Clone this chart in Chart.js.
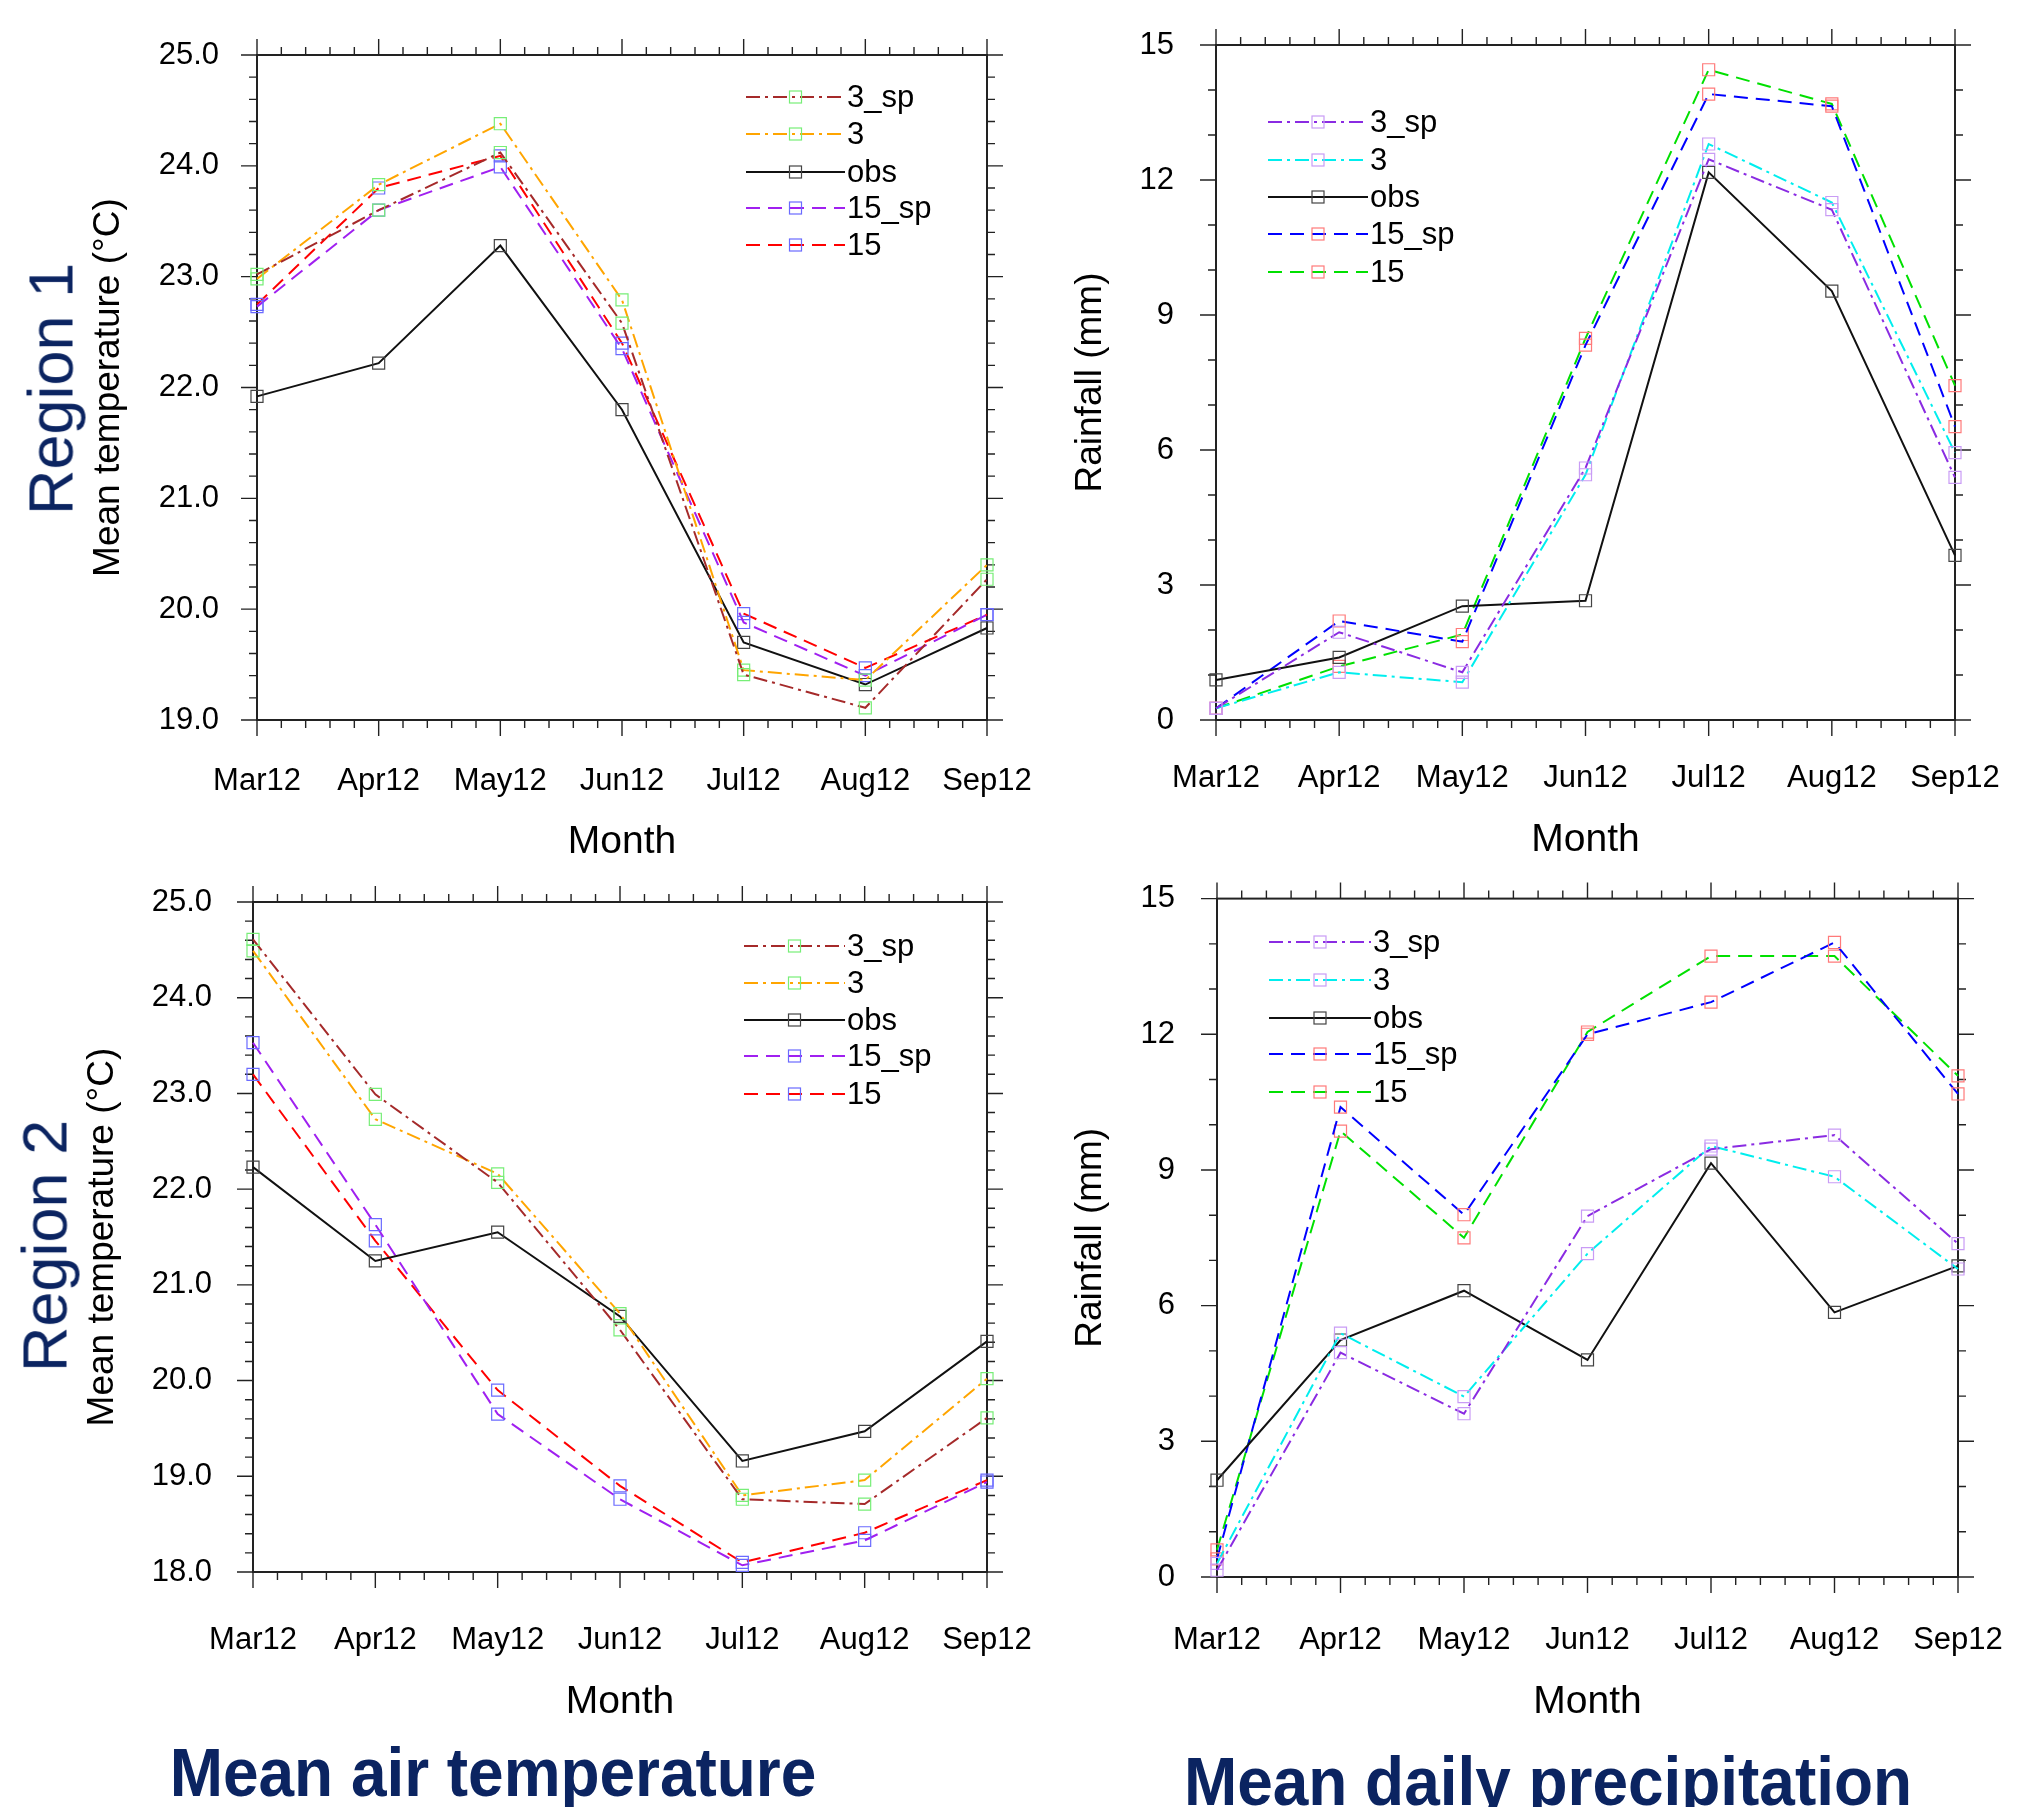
<!DOCTYPE html>
<html>
<head>
<meta charset="utf-8">
<script src="https://cdn.jsdelivr.net/npm/chart.js@4.4.1/dist/chart.umd.min.js"></script>
<style>
  html, body { margin: 0; padding: 0; background: #fff; }
  #page { position: relative; width: 2017px; height: 1807px; overflow: hidden; background: #fff; }
  #page canvas { position: absolute; }
  .region, .caption {
    position: absolute; white-space: nowrap; color: #0b2461;
    font-family: 'Liberation Sans', Arial, Helvetica, sans-serif; line-height: 1;
  }
  .region { font-size: 63px; transform: translate(-50%, -50%) rotate(-90deg); }
  .caption { font-size: 68px; font-weight: bold; transform: translateX(-50%) scaleX(0.94); }
</style>
</head>
<body>
<div id="page">
  <canvas id="tempR1" width="1060" height="880" style="left:0;top:0"></canvas>
  <canvas id="rainR1" width="1050" height="880" style="left:1010px;top:0"></canvas>
  <canvas id="tempR2" width="1060" height="927" style="left:0;top:880px"></canvas>
  <canvas id="rainR2" width="1050" height="927" style="left:1010px;top:880px"></canvas>
  <div class="region" style="left:51px;top:389px">Region 1</div>
  <div class="region" style="left:45px;top:1246px">Region 2</div>
  <div class="caption" style="left:493px;top:1738px">Mean air temperature</div>
  <div class="caption" style="left:1548px;top:1747px">Mean daily precipitation</div>
</div>
<script>
// x categories and legend names
const months = ['Mar12', 'Apr12', 'May12', 'Jun12', 'Jul12', 'Aug12', 'Sep12'];
const seriesNames = ['3_sp', '3', 'obs', '15_sp', '15'];

// Region 1, mean air temperature (degC)
const r1Temp3sp  = [23.02, 23.60, 24.12, 22.58, 19.41, 19.11, 20.27];
const r1Temp3    = [22.98, 23.83, 24.38, 22.79, 19.45, 19.36, 20.40];
const r1TempObs  = [21.92, 22.22, 23.28, 21.80, 19.70, 19.32, 19.83];
const r1Temp15sp = [22.73, 23.60, 23.99, 22.35, 19.88, 19.40, 19.95];
const r1Temp15   = [22.75, 23.80, 24.09, 22.40, 19.96, 19.47, 19.95];

// Region 1, mean daily rainfall (mm)
const r1Rain3sp  = [0.26, 1.95, 1.06, 5.60, 12.46, 11.34, 5.39];
const r1Rain3    = [0.26, 1.06, 0.84, 5.45, 12.80, 11.50, 5.94];
const r1RainObs  = [0.89, 1.39, 2.53, 2.65, 12.17, 9.53, 3.66];
const r1Rain15sp = [0.26, 2.20, 1.74, 8.33, 13.91, 13.64, 6.52];
const r1Rain15   = [0.26, 1.19, 1.90, 8.48, 14.45, 13.69, 7.43];

// Region 2, mean air temperature (degC)
const r2Temp3sp  = [24.61, 22.99, 22.07, 20.53, 18.76, 18.71, 19.61];
const r2Temp3    = [24.49, 22.73, 22.16, 20.70, 18.80, 18.96, 20.02];
const r2TempObs  = [22.23, 21.25, 21.55, 20.67, 19.16, 19.47, 20.41];
const r2Temp15sp = [23.53, 21.63, 19.65, 18.76, 18.07, 18.33, 18.94];
const r2Temp15   = [23.20, 21.46, 19.90, 18.90, 18.10, 18.41, 18.96];

// Region 2, mean daily rainfall (mm)
const r2Rain3sp  = [0.15, 4.96, 3.61, 7.98, 9.46, 9.77, 7.37];
const r2Rain3    = [0.30, 5.39, 3.99, 7.15, 9.53, 8.85, 6.81];
const r2RainObs  = [2.14, 5.24, 6.33, 4.80, 9.15, 5.85, 6.88];
const r2Rain15sp = [0.40, 10.39, 8.01, 12.00, 12.71, 14.03, 10.68];
const r2Rain15   = [0.60, 9.86, 7.50, 12.05, 13.73, 13.73, 11.08];

// y tick ranges: min, max, step
const tempTicksR1 = [19, 25, 1];
const tempTicksR2 = [18, 25, 1];
const rainTicks = [0, 15, 3];

Chart.defaults.font.family = "'Liberation Sans', Arial, Helvetica, sans-serif";
Chart.defaults.color = '#000';

const DASH = [14, 8];
const DASHDOT = [14, 5, 3, 5];

// line styles per series, temperature panels and rainfall panels
const tempStyles = [
    { line: '#a52a2a', mark: '#77ee77', dash: DASHDOT },
    { line: '#ffa500', mark: '#77ee77', dash: DASHDOT },
    { line: '#111111', mark: '#444444', dash: [] },
    { line: '#a020f0', mark: '#6a6aff', dash: DASH },
    { line: '#ff0000', mark: '#6a6aff', dash: DASH }
];
const rainStyles = [
    { line: '#8a2be2', mark: '#c99cf5', dash: DASHDOT },
    { line: '#00eeee', mark: '#c99cf5', dash: DASHDOT },
    { line: '#111111', mark: '#444444', dash: [] },
    { line: '#0000ff', mark: '#ff7a7a', dash: DASH },
    { line: '#00e000', mark: '#ff7a7a', dash: DASH }
];

// box around the plot with outward major and minor ticks on all four sides
const frameTicks = {
    id: 'frameTicks',
    beforeDatasetsDraw(chart, args, opts) {
        const { ctx, chartArea: a, scales: { x, y } } = chart;
        ctx.save();
        ctx.strokeStyle = '#222';
        ctx.lineWidth = 2;
        ctx.strokeRect(a.left, a.top, a.right - a.left, a.bottom - a.top);
        ctx.lineWidth = 1.4;
        ctx.beginPath();
        const xSteps = (months.length - 1) * opts.xMinor;
        for (let i = 0; i <= xSteps; i++) {
            const px = x.getPixelForValue(i / opts.xMinor);
            const len = i % opts.xMinor === 0 ? opts.major : opts.minor;
            ctx.moveTo(px, a.bottom); ctx.lineTo(px, a.bottom + len);
            ctx.moveTo(px, a.top); ctx.lineTo(px, a.top - len);
        }
        const ySteps = Math.round((y.max - y.min) / opts.yStep * opts.yMinor);
        for (let i = 0; i <= ySteps; i++) {
            const py = y.getPixelForValue(y.min + i * opts.yStep / opts.yMinor);
            const len = i % opts.yMinor === 0 ? opts.major : opts.minor;
            ctx.moveTo(a.left, py); ctx.lineTo(a.left - len, py);
            ctx.moveTo(a.right, py); ctx.lineTo(a.right + len, py);
        }
        ctx.stroke();
        ctx.restore();
    }
};

// legend rows: dashed line, square marker in the middle, label on the right
const lineLegend = {
    id: 'lineLegend',
    afterDatasetsDraw(chart, args, opts) {
        const ctx = chart.ctx;
        chart.data.datasets.forEach((ds, i) => {
            const yy = opts.rows[i];
            const mx = (opts.x0 + opts.x1) / 2;
            ctx.save();
            ctx.strokeStyle = ds.borderColor;
            ctx.lineWidth = ds.borderWidth;
            ctx.setLineDash(ds.borderDash);
            ctx.beginPath();
            ctx.moveTo(opts.x0, yy);
            ctx.lineTo(opts.x1, yy);
            ctx.stroke();
            ctx.setLineDash([]);
            ctx.strokeStyle = ds.pointBorderColor;
            ctx.lineWidth = 1.2;
            ctx.strokeRect(mx - 6, yy - 6, 12, 12);
            ctx.fillStyle = '#000';
            ctx.font = "31px 'Liberation Sans', Arial, sans-serif";
            ctx.textBaseline = 'middle';
            ctx.fillText(ds.label, opts.textX, yy + 1);
            ctx.restore();
        });
    }
};

function makeDatasets(values, styles) {
    return values.map((vals, i) => ({
        label: seriesNames[i],
        data: vals,
        borderColor: styles[i].line,
        borderWidth: 2,
        borderDash: styles[i].dash,
        pointStyle: 'rect',
        pointRadius: 8.5,
        pointBorderWidth: 1.2,
        pointBorderColor: styles[i].mark,
        pointBackgroundColor: 'rgba(0,0,0,0)',
        tension: 0,
        clip: false
    }));
}

// invisible tick marks keep the label gap without widening the layout padding
function gapGrid(len) {
    return { display: true, drawOnChartArea: false, drawTicks: true, tickLength: len, tickColor: 'rgba(0,0,0,0)' };
}

function makePanel(id, cfg) {
    const [yMin, yMax, yStep] = cfg.yTicks;
    new Chart(document.getElementById(id), {
        type: 'line',
        data: { labels: months, datasets: makeDatasets(cfg.values, cfg.styles) },
        plugins: [frameTicks, lineLegend],
        options: {
            responsive: false,
            animation: false,
            devicePixelRatio: 1,
            events: [],
            layout: { padding: cfg.padding },
            plugins: {
                legend: { display: false },
                tooltip: { enabled: false },
                frameTicks: { xMinor: 5, yMinor: cfg.yMinor, yStep: yStep, major: 16, minor: 8 },
                lineLegend: cfg.legend
            },
            scales: {
                x: {
                    type: 'category',
                    offset: false,
                    grid: gapGrid(cfg.xTickPad),
                    border: { display: false },
                    ticks: { font: { size: 31 }, padding: 0, maxRotation: 0, autoSkip: false },
                    title: { display: true, text: 'Month', font: { size: 39 }, padding: { top: 0, bottom: cfg.xTitlePad } },
                    afterFit(scale) { scale.height = cfg.xHeight; }
                },
                y: {
                    min: yMin,
                    max: yMax,
                    grid: gapGrid(cfg.yTickPad),
                    border: { display: false },
                    ticks: {
                        stepSize: yStep,
                        font: { size: 31 },
                        padding: 0,
                        callback: v => cfg.decimals ? v.toFixed(1) : String(v)
                    },
                    title: { display: true, text: cfg.yTitle, font: { size: 37 }, padding: { top: cfg.yTitlePad, bottom: 0 } },
                    afterFit(scale) { scale.width = cfg.yWidth; }
                }
            }
        }
    });
}

makePanel('tempR1', {
    values: [r1Temp3sp, r1Temp3, r1TempObs, r1Temp15sp, r1Temp15],
    styles: tempStyles, yTicks: tempTicksR1, yMinor: 5, decimals: true,
    yTitle: 'Mean temperature (\u00B0C)',
    padding: { left: 0, top: 55, right: 73, bottom: 0 },
    yWidth: 257, xHeight: 160, yTickPad: 38, yTitlePad: 87, xTickPad: 43, xTitlePad: 14,
    legend: { x0: 746, x1: 845, textX: 847, rows: [97, 134, 172, 208, 245] }
});

makePanel('rainR1', {
    values: [r1Rain3sp, r1Rain3, r1RainObs, r1Rain15sp, r1Rain15],
    styles: rainStyles, yTicks: rainTicks, yMinor: 3, decimals: false,
    yTitle: 'Rainfall (mm)',
    padding: { left: 0, top: 45, right: 105, bottom: 0 },
    yWidth: 206, xHeight: 160, yTickPad: 42, yTitlePad: 59, xTickPad: 40, xTitlePad: 16,
    legend: { x0: 258, x1: 358, textX: 360, rows: [122, 160, 197, 234, 272] }
});

makePanel('tempR2', {
    values: [r2Temp3sp, r2Temp3, r2TempObs, r2Temp15sp, r2Temp15],
    styles: tempStyles, yTicks: tempTicksR2, yMinor: 5, decimals: true,
    yTitle: 'Mean temperature (\u00B0C)',
    padding: { left: 0, top: 22, right: 73, bottom: 75 },
    yWidth: 253, xHeight: 160, yTickPad: 41, yTitlePad: 81, xTickPad: 50, xTitlePad: 6,
    legend: { x0: 744, x1: 845, textX: 847, rows: [66, 103, 140, 176, 214] }
});

makePanel('rainR2', {
    values: [r2Rain3sp, r2Rain3, r2RainObs, r2Rain15sp, r2Rain15],
    styles: rainStyles, yTicks: rainTicks, yMinor: 3, decimals: false,
    yTitle: 'Rainfall (mm)',
    padding: { left: 0, top: 18, right: 102, bottom: 75 },
    yWidth: 207, xHeight: 155, yTickPad: 42, yTitlePad: 59, xTickPad: 45, xTitlePad: 6,
    legend: { x0: 259, x1: 361, textX: 363, rows: [62, 100, 138, 174, 212] }
});
</script>
</body>
</html>
